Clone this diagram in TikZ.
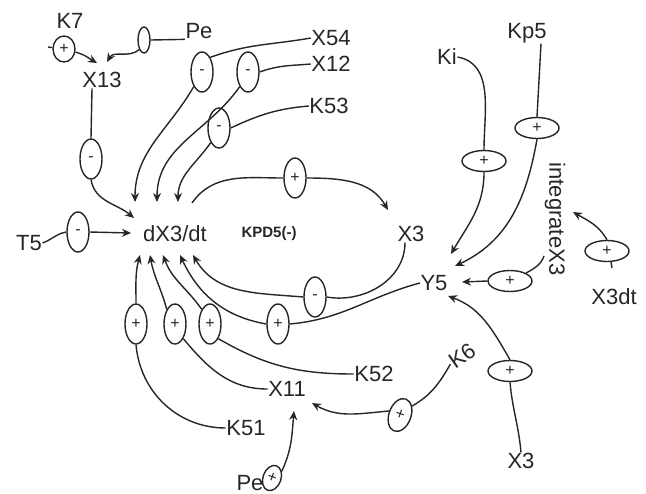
\documentclass[tikz,border=0pt]{standalone}
\usepackage{fontspec}
\setmainfont{Liberation Sans}
\usetikzlibrary{shapes,arrows,positioning,calc,arrows.meta}

\begin{document}
\begin{tikzpicture}[x=0.5pt,y=-0.5pt,line width=0.7pt,color=black!85,
    lbl/.style={inner sep=0pt, font=\fontsize{11}{13}\selectfont},
    sgn/.style={draw, ellipse, inner sep=0pt, minimum width=11pt, minimum height=20pt, font=\fontsize{8}{8}\selectfont},
    sgnh/.style={draw, ellipse, inner sep=0pt, minimum width=22pt, minimum height=10.5pt, font=\fontsize{8}{8}\selectfont},
    arr/.style={-{Stealth[length=4.5pt,width=4pt]}}]
    \useasboundingbox (0,0) rectangle (646,493);

    % species and parameters
    \node[lbl] (K7) at (70,21) {K7};
    \node[lbl] (PeT) at (199,31) {Pe};
    \node[lbl] (X13) at (102,80) {X13};
    \node[lbl] (X54) at (331,38) {X54};
    \node[lbl] (X12) at (331,64) {X12};
    \node[lbl] (K53) at (329,106) {K53};
    \node[lbl] (T5) at (29,243) {T5};
    \node[lbl] (dX3) at (175,234) {dX3/dt};
    \node[lbl, font=\fontsize{7.5}{9}\selectfont\bfseries] (KPD5) at (269,234) {KPD5(-)};
    \node[lbl] (X3) at (411,234) {X3};
    \node[lbl] (Ki) at (447,57) {Ki};
    \node[lbl] (Kp5) at (527,33) {Kp5};
    \node[lbl, rotate=-90] (intX3) at (555,219) {integrateX3};
    \node[lbl] (Y5) at (434,283) {Y5};
    \node[lbl] (X3dt) at (614,297) {X3dt};
    \node[lbl] (K52) at (374,374) {K52};
    \node[lbl, rotate=35] (K6) at (462,356) {K6};
    \node[lbl] (X3b) at (521,461) {X3};
    \node[lbl] (X11) at (287,389) {X11};
    \node[lbl] (K51) at (246,428) {K51};
    \node[lbl] (PeB) at (250,483) {Pe};

    % signs
    \node[sgn, minimum height=13pt] (sK7) at (64,49) {+};
    \node[sgn, minimum width=6pt, minimum height=13pt] (sPe) at (144,40) {};
    \node[sgn] (sX13) at (91,159) {-};
    \node[sgn] (sT5) at (78,232) {-};
    \node[sgn] (sX54) at (202,72) {-};
    \node[sgn] (sX12) at (248,72) {-};
    \node[sgn] (sK53) at (219,128) {-};
    \node[sgn] (sTop) at (295,178) {+};
    \node[sgn] (sX3) at (315,297) {-};
    \node[sgn] (sY5) at (278,324) {+};
    \node[sgn] (sK52) at (210,324) {+};
    \node[sgn] (sX11) at (175,324) {+};
    \node[sgn] (sK51) at (136,324) {+};
    \node[sgnh] (sKi) at (484,161) {+};
    \node[sgnh] (sKp5) at (537,128) {+};
    \node[sgnh] (sInt) at (510,281) {+};
    \node[sgnh] (sX3dt) at (607,251) {+};
    \node[sgnh] (sX3b) at (510,371) {+};
    \node[sgn, rotate=-20, minimum height=17pt] (sK6) at (400,415) {+};
    \node[sgn, rotate=-20, minimum width=9pt, minimum height=13pt] (sPe2) at (272,478) {+};

    % arrow ends
    \coordinate (k7in) at (48,47);
    \coordinate (x13a) at (97,63);
    \coordinate (x13b) at (107,62);
    \coordinate (dl) at (134,218);
    \coordinate (dt) at (131,233);
    \coordinate (d1) at (135,202);
    \coordinate (d2) at (157,202);
    \coordinate (d3) at (178,202);
    \coordinate (dout) at (192,203);
    \coordinate (b1) at (140,255);
    \coordinate (b2) at (150,255);
    \coordinate (b3) at (163,255);
    \coordinate (b4) at (180,255);
    \coordinate (b5) at (193,255);
    \coordinate (x3a) at (388,210);
    \coordinate (y5a) at (451,254);
    \coordinate (y5b) at (455,266);
    \coordinate (y5c) at (462,282);
    \coordinate (y5d) at (448,296);
    \coordinate (intin) at (573,212);
    \coordinate (x11a) at (294,411);
    \coordinate (x11b) at (312,403);
    \coordinate (x3dtin) at (612,268);

    % top left
    \draw (k7in) -- (sK7);
    \draw[arr] (sK7) to[out=-15,in=150] (x13a);
    \draw (PeT.south west) -- (sPe.east);
    \draw[arr] (sPe.south west) to[out=-140,in=60] (x13b);
    \draw ([xshift=-5pt]X13.south) -- (sX13.north);
    \draw[arr] (sX13.south) to[out=-80,in=140] (dl);
    \draw (T5.east) to[out=20,in=190] (sT5.west);
    \draw[arr] (sT5.east) -- (dt);
    \draw (X54.west) to[out=190,in=20] (sX54.north east);
    \draw[arr] (sX54.south west) to[out=-120,in=90] (d1);
    \draw (X12.west) to[out=185,in=20] (sX12.east);
    \draw[arr] (sX12.south west) to[out=-125,in=90] (d2);
    \draw (K53.west) to[out=185,in=25] (sK53.east);
    \draw[arr] (sK53.south west) to[out=-125,in=90] (d3);

    % loop
    \draw (dout) to[out=55,in=180] (sTop.west);
    \draw[arr] (sTop.east) to[out=0,in=120] (x3a);
    \draw ([xshift=-3pt]X3.south) to[out=-90,in=-10] (sX3.east);
    \draw[arr] (sX3.west) to[out=175,in=-60] (b5);
    \draw (Y5.west) to[out=195,in=5] (sY5.east);
    \draw[arr] (sY5.west) to[out=170,in=-65] (b4);
    \draw (K52.west) to[out=180,in=-30] (sK52.south east);
    \draw[arr] (sK52.north west) to[out=125,in=-70] (b3);
    \draw (X11.west) to[out=180,in=-50] (sX11.south east);
    \draw[arr] (sX11.north west) to[out=105,in=-80] (b2);
    \draw (K51.west) to[out=180,in=-85] (sK51.south);
    \draw[arr] (sK51.north) to[out=90,in=-105] (b1);

    % bottom
    \draw[arr] (sPe2.north east) to[out=65,in=-95] (x11a);
    \draw (K6.west) to[out=-120,in=30] (sK6.north east);
    \draw[arr] (sK6.west) to[out=185,in=-30] (x11b);
    \draw (X3b.north) to[out=95,in=-85] (sX3b.south);
    \draw[arr] (sX3b.north) to[out=120,in=-20] (y5d);

    % right
    \draw (Ki.east) to[out=-10,in=90] (sKi.north);
    \draw[arr] (sKi.south) to[out=-90,in=60] (y5a);
    \draw ([xshift=7pt]Kp5.south) -- (sKp5.north);
    \draw[arr] (sKp5.south) to[out=-100,in=25] (y5b);
    \draw ([yshift=10pt]intX3.south east) to[out=-110,in=30] (sInt.north east);
    \draw[arr] (sInt.west) -- (y5c);
    \draw[arr] (sX3dt.north) to[out=120,in=-30] (intin);
    \draw ([xshift=2pt]sX3dt.south) -- (x3dtin);
\end{tikzpicture}
\end{document}
